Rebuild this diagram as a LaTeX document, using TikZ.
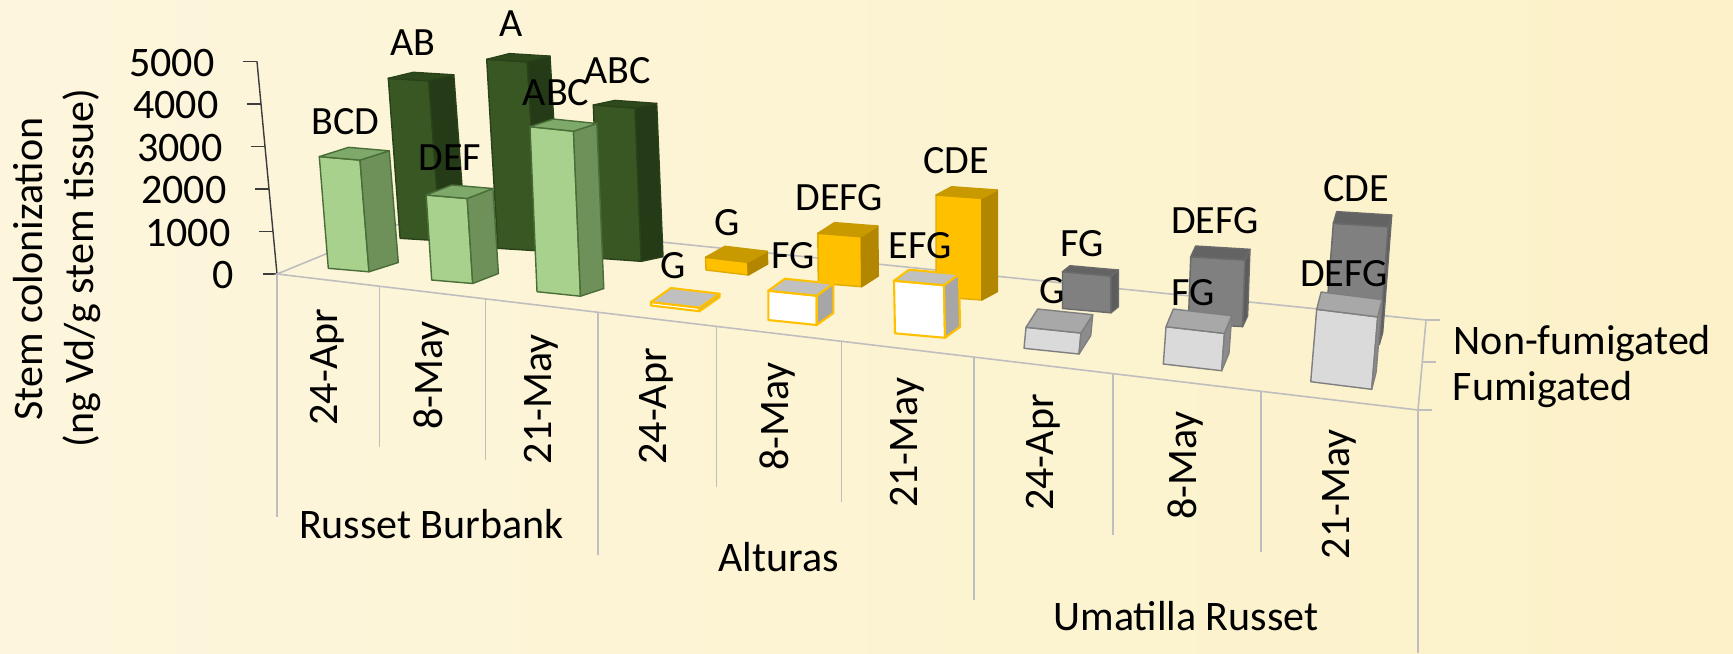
\documentclass[tikz,border=0pt]{standalone}
\usepackage{fontspec}
\setmainfont{Carlito}
\usetikzlibrary{calc}
\definecolor{bgL}{RGB}{253,246,221}
\definecolor{bgM}{RGB}{255,252,238}
\definecolor{bgR}{RGB}{252,241,200}
\definecolor{floorgray}{RGB}{190,190,190}
\definecolor{axisgray}{RGB}{60,60,60}
\definecolor{lgF}{HTML}{A9D18E}\definecolor{lgS}{HTML}{6E9159}\definecolor{lgT}{HTML}{7FA96A}\definecolor{lgE}{HTML}{4A6E38}
\definecolor{dgF}{HTML}{385723}\definecolor{dgS}{HTML}{253B17}\definecolor{dgT}{HTML}{2E4A1C}\definecolor{dgE}{HTML}{2A4219}
\definecolor{gdF}{HTML}{FFC000}\definecolor{gdS}{HTML}{B38600}\definecolor{gdT}{HTML}{C99A00}\definecolor{gdE}{HTML}{E0AA00}
\definecolor{wgF}{HTML}{FFFFFF}\definecolor{wgS}{HTML}{A6A6A6}\definecolor{wgT}{HTML}{C0C0C0}\definecolor{wgE}{HTML}{FFC000}
\definecolor{ltF}{HTML}{DADADA}\definecolor{ltS}{HTML}{8C8C8C}\definecolor{ltT}{HTML}{A8A8A8}\definecolor{ltE}{HTML}{7F7F7F}
\definecolor{dkF}{HTML}{808080}\definecolor{dkS}{HTML}{5C5C5C}\definecolor{dkT}{HTML}{636363}\definecolor{dkE}{HTML}{6A6A6A}
\newcommand\myaxfont{\fontsize{11.95pt}{14pt}\selectfont}
\newcommand\myvalfont{\fontsize{11.4pt}{13pt}\selectfont}
\newcommand\mybar[6]{%
  \coordinate (#1-b) at #3;
  \coordinate (#1-br) at ($(#1-b)+#4$);
  \coordinate (#1-t) at ($(#1-b)+#5$);
  \coordinate (#1-tr) at ($(#1-br)+#5$);
  \coordinate (#1-brb) at ($(#1-br)+#6$);
  \coordinate (#1-trb) at ($(#1-tr)+#6$);
  \coordinate (#1-tb) at ($(#1-t)+#6$);
  \draw[#2front] (#1-b) -- (#1-br) -- (#1-tr) -- (#1-t) -- cycle;
  \draw[#2side] (#1-br) -- (#1-brb) -- (#1-trb) -- (#1-tr) -- cycle;
  \draw[#2top] (#1-t) -- (#1-tr) -- (#1-trb) -- (#1-tb) -- cycle;
}
\tikzset{
  barline/.style={line width=0.4pt, line join=round},
  lgfront/.style={barline, fill=lgF, draw=lgE},
  lgside/.style={barline, fill=lgS, draw=lgE},
  lgtop/.style={barline, fill=lgT, draw=lgE},
  dgfront/.style={barline, fill=dgF, draw=dgE},
  dgside/.style={barline, fill=dgS, draw=dgE},
  dgtop/.style={barline, fill=dgT, draw=dgE},
  gdfront/.style={barline, fill=gdF, draw=gdE},
  gdside/.style={barline, fill=gdS, draw=gdS},
  gdtop/.style={barline, fill=gdT, draw=gdT},
  wgfront/.style={line width=0.6pt, line join=round, fill=wgF, draw=wgE},
  wgside/.style={line width=0.6pt, line join=round, fill=wgS, draw=wgE},
  wgtop/.style={line width=0.6pt, line join=round, fill=wgT, draw=wgE},
  ltfront/.style={barline, fill=ltF, draw=ltE},
  ltside/.style={barline, fill=ltS, draw=ltE},
  lttop/.style={barline, fill=ltT, draw=ltE},
  dkfront/.style={barline, fill=dkF, draw=dkE},
  dkside/.style={barline, fill=dkS, draw=dkE},
  dktop/.style={barline, fill=dkT, draw=dkE},
  floorline/.style={draw=floorgray, line width=0.45pt},
  axisline/.style={draw=axisgray, line width=0.4pt},
  ticklabel/.style={font=\myaxfont, anchor=base east, inner sep=0pt},
  datelabel/.style={font=\myaxfont, rotate=90, anchor=base east, inner sep=0pt},
  grouplabel/.style={font=\myaxfont, anchor=base, inner sep=0pt},
  vlabel/.style={font=\myvalfont, anchor=base, inner sep=0pt},
}
\begin{document}
\begin{tikzpicture}[x=0.01cm,y=-0.01cm]
\useasboundingbox (0,0) rectangle (1733,653);
\shade[left color=bgL, middle color=bgM, right color=bgR] (0,0) rectangle (1733,653);

% y axis title
\node[font=\myaxfont, rotate=90, inner sep=0pt] (ytitle1) at (28,269) {Stem colonization};
\node[font=\myaxfont, rotate=90, inner sep=0pt] (ytitle2) at (82,268) {(ng Vd/g stem tissue)};

% value axis
\draw[axisline] (257,61.5) -- (277,274);
\foreach \v/\t in {0/0,1/1000,2/2000,3/3000,4/4000,5/5000}{
  \pgfmathsetmacro\ax{277-4*\v}
  \pgfmathsetmacro\ay{274-42.5*\v}
  \draw[axisline] (\ax-14,\ay) -- (\ax,\ay);
  \node[ticklabel] (tick\v) at (\ax-42,\ay+14.5) {\t};
}

% floor
\draw[floorline] (277,274) -- (416,217) -- (1426,320) -- (1418,410) -- cycle;
\draw[floorline] (1426,320) -- (1440,320);
\draw[floorline] (1422,362) -- (1436,362);
\draw[floorline] (1418,410) -- (1432,410);

% category separators
\foreach \lx/\ly/\ln in {277/274/243, 379.5/286.2/161, 485.7/298.9/161, 598.2/312.3/243, 716.5/326.4/161, 841.5/341.3/161, 974/357.1/243, 1113/373.7/161, 1261/391.3/161, 1418/410/243}{
  \draw[floorline] (\lx,\ly) -- (\lx,\ly+\ln);
}

% back row (Non-fumigated)
\mybar{nf1}{dg}{(400.1,238.3)}{(40.5,2.5)}{(-11.8,-160)}{(25,-6)}
\mybar{nf2}{dg}{(497.7,248.3)}{(40.6,2.5)}{(-11,-189)}{(22.7,-5.7)}
\mybar{nf3}{dg}{(599.6,258.3)}{(41.7,3)}{(-6.3,-153.3)}{(21.7,-4.6)}
\mybar{nf4}{gd}{(706,270)}{(42.3,5)}{(-0.5,-12.7)}{(19.4,-11)}
\mybar{nf5}{gd}{(818.3,283.3)}{(43.4,3.4)}{(-0.5,-50)}{(16.6,-10.7)}
\mybar{nf6}{gd}{(936,296.7)}{(45.7,3.3)}{(0,-101.7)}{(15.6,-8.3)}
\mybar{nf7}{dk}{(1062.5,308.5)}{(48.4,4.3)}{(0,-36.8)}{(7.5,-6)}
\mybar{nf8}{dk}{(1188.3,323.3)}{(54.3,3.3)}{(2.4,-66.6)}{(5,-10.7)}
\mybar{nf9}{dk}{(1324.3,341)}{(55,3.4)}{(9,-117.7)}{(3.4,-11.7)}

% front row (Fumigated)
\mybar{f1}{lg}{(328.3,268.3)}{(40.7,3.5)}{(-9,-111.7)}{(29.3,-9.3)}
\mybar{f2}{lg}{(431.7,280)}{(41,3.5)}{(-5.5,-85)}{(25.7,-10)}
\mybar{f3}{lg}{(537,291.7)}{(43.5,4.5)}{(-7,-165)}{(23.3,-7.7)}
\mybar{f4}{wg}{(651,305.5)}{(48.5,5.7)}{(0,-3.5)}{(20,-14)}
\mybar{f5}{wg}{(768.3,320)}{(48.4,5)}{(0,-29.3)}{(16.6,-12)}
\mybar{f6}{wg}{(895,333.3)}{(50,4.5)}{(-1,-52.6)}{(15,-11)}
\mybar{f7}{lt}{(1024,348.3)}{(55,5.7)}{(2,-21)}{(11.7,-18.3)}
\mybar{f8}{lt}{(1163.3,364)}{(58.4,6.7)}{(2.7,-37.3)}{(7.3,-17.7)}
\mybar{f9}{lt}{(1310.7,381.7)}{(61,7.6)}{(6,-72.4)}{(4.4,-17.3)}

% value labels
\node[vlabel] (lbcd) at (345.5,134.3) {BCD};
\node[vlabel] (lab) at (412.5,55) {AB};
\node[vlabel] (ldef) at (450,170) {DEF};
\node[vlabel] (la) at (511,36.7) {A};
\node[vlabel] (labc1) at (556,105) {ABC};
\node[vlabel] (labc2) at (617.5,83.3) {ABC};
\node[vlabel] (lg1) at (673.3,278.3) {G};
\node[vlabel] (lg2) at (726.7,235) {G};
\node[vlabel] (lfg1) at (793.3,268.3) {FG};
\node[vlabel] (ldefg1) at (839.2,210) {DEFG};
\node[vlabel] (lefg) at (920,258.3) {EFG};
\node[vlabel] (lcde1) at (955.8,173.3) {CDE};
\node[vlabel] (lg3) at (1051.7,303.3) {G};
\node[vlabel] (lfg2) at (1082.5,256.7) {FG};
\node[vlabel] (lfg3) at (1193,305) {FG};
\node[vlabel] (ldefg2) at (1215,233.3) {DEFG};
\node[vlabel] (ldefg3) at (1344,286.7) {DEFG};
\node[vlabel] (lcde2) at (1356,201.7) {CDE};

% date labels
\node[datelabel] (d1) at (337.8,308.1) {24-Apr};
\node[datelabel] (d2) at (442.1,320.5) {8-May};
\node[datelabel] (d3) at (551.5,333.6) {21-May};
\node[datelabel] (d4) at (666.9,347.3) {24-Apr};
\node[datelabel] (d5) at (788.5,361.8) {8-May};
\node[datelabel] (d6) at (917.3,377.2) {21-May};
\node[datelabel] (d7) at (1053,393.4) {24-Apr};
\node[datelabel] (d8) at (1196.5,410.5) {8-May};
\node[datelabel] (d9) at (1349,428.6) {21-May};

% group labels
\node[grouplabel] (g1) at (431.5,538) {Russet Burbank};
\node[grouplabel] (g2) at (778.6,571.7) {Alturas};
\node[grouplabel] (g3) at (1186,630) {Umatilla Russet};

% series labels
\node[font=\myaxfont, anchor=base west, inner sep=0pt] (s1) at (1453,354) {Non-fumigated};
\node[font=\myaxfont, anchor=base west, inner sep=0pt] (s2) at (1452,400) {Fumigated};
\end{tikzpicture}
\end{document}
